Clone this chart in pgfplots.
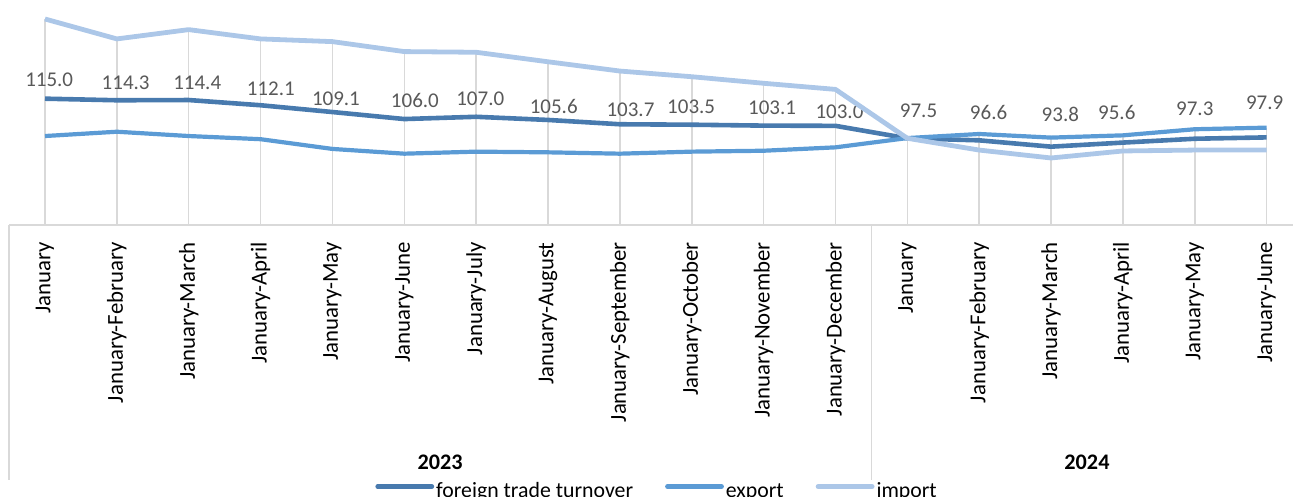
\documentclass[border=0pt]{standalone}
\usepackage{pgfplots}
\pgfplotsset{compat=1.18}
\usepackage{pgfplotstable}
\usepackage{fontspec}
\setmainfont{Carlito}

\definecolor{cturn}{HTML}{487AAE}
\definecolor{cexp}{HTML}{5B9BD5}
\definecolor{cimp}{HTML}{ACC7E8}
\definecolor{gridc}{HTML}{D9D9D9}
\definecolor{clabel}{HTML}{595959}

\pgfplotstableread{
x turnover export import top dx dy
0 115.0 98.5 150.2 150.2 4.2 18.7
1 114.3 100.4 141.4 141.4 8.8 17.8
2 114.4 98.5 145.5 145.5 8.5 17.2
3 112.1 97.1 141.4 141.4 10.2 16.5
4 109.1 92.8 140.2 140.2 3.5 13.2
5 106.0 90.7 135.8 135.8 10.6 18.2
6 107.0 91.6 135.5 135.5 4.1 17.8
7 105.6 91.3 131.3 131.3 5.7 13.5
8 103.7 90.7 127.2 127.2 10.6 14.2
9 103.5 91.6 124.7 124.7 -0.6 18.3
10 103.1 92.0 121.8 121.8 8.5 17.7
11 103.0 93.5 119.1 119.1 4.0 13.8
12 97.5 97.6 97.5 97.6 11.2 27.2
13 96.6 99.4 92.3 99.4 9.4 27.5
14 93.8 97.8 88.8 97.8 9.3 31.9
15 95.6 98.8 91.9 98.8 -6.1 30.2
16 97.3 101.5 92.3 101.5 0 29.8
17 97.9 102.2 92.3 102.2 -2 34.5
}\datatable

\begin{document}
\begin{tikzpicture}
\begin{axis}[
  at={(0,0)}, anchor=south west,
  scale only axis, width=641.97pt, height=112.5pt,
  xmin=-0.5, xmax=17.367, ymin=59.2, ymax=158.6,
  axis x line=bottom, axis y line=none,
  axis line style={-, draw=gridc, line width=0.75pt},
  xtick={0,...,17},
  xticklabels={January,January-February,January-March,January-April,January-May,January-June,January-July,January-August,January-September,January-October,January-November,January-December,January,January-February,January-March,January-April,January-May,January-June},
  major tick length=0pt,
  ytick=\empty,
  xticklabel style={rotate=90, anchor=east, inner sep=0pt, font=\fontsize{11.4pt}{13pt}\selectfont, text=black},
  xticklabel shift=8.5pt,
  clip mode=individual,
  /pgf/number format/assume math mode=true,
  legend columns=3,
  legend image code/.code={\draw[#1] (0pt,2.6pt) -- (27pt,2.6pt);},
  legend style={at={(0.285,-1.1854)}, anchor=west, draw=none, fill=none, inner sep=0pt,
    nodes={inner sep=1pt}, font=\fontsize{10.9pt}{13pt}\selectfont,
    /tikz/every even column/.append style={column sep=15pt}},
  legend cell align=left,
]
\addlegendimage{cturn, line width=2.4pt, line cap=round}
\addlegendentry{foreign trade turnover}
\addlegendimage{cexp, line width=2.4pt, line cap=round}
\addlegendentry{export}
\addlegendimage{cimp, line width=2.4pt, line cap=round}
\addlegendentry{import}

\addplot[forget plot, ycomb, draw=gridc, line width=0.75pt, no marks] table[x=x, y=top] {\datatable};

\addplot[forget plot, cturn, line width=2.3pt, line join=round, no marks,
  nodes near coords={\pgfmathprintnumber[fixed,fixed zerofill,precision=1,assume math mode=true]{\pgfplotspointmeta}},
  point meta=explicit,
  visualization depends on={\thisrow{dx} \as \ldx},
  visualization depends on={\thisrow{dy} \as \ldy},
  every node near coord/.append style={anchor=center, inner sep=0pt, xshift={\ldx*0.5pt}, yshift={\ldy*0.5pt}, text=clabel, font=\fontsize{10.5pt}{12pt}\selectfont}
] table[x=x, y=turnover, meta=turnover] {\datatable};

\addplot[forget plot, cexp, line width=2.1pt, line join=round, no marks] table[x=x, y=export] {\datatable};
\addplot[forget plot, cimp, line width=2.4pt, line join=round, no marks] table[x=x, y=import] {\datatable};

\draw[gridc, line width=0.75pt] (axis cs:-0.5,59.2) -- ([yshift=-127.5pt]axis cs:-0.5,59.2);
\draw[gridc, line width=0.75pt] (axis cs:11.5,59.2) -- ([yshift=-127.5pt]axis cs:11.5,59.2);
\node[inner sep=0pt, anchor=center, font=\fontsize{11.1pt}{13pt}\selectfont\bfseries] at (axis cs:5.5,59.2) [yshift=-118.5pt] {2023};
\node[inner sep=0pt, anchor=center, font=\fontsize{11.1pt}{13pt}\selectfont\bfseries] at (axis cs:14.5,59.2) [yshift=-118.5pt] {2024};
\end{axis}
\pgfresetboundingbox
\useasboundingbox (-4.535pt,-136pt) rectangle (641.97pt,112.5pt);
\end{tikzpicture}
\end{document}
